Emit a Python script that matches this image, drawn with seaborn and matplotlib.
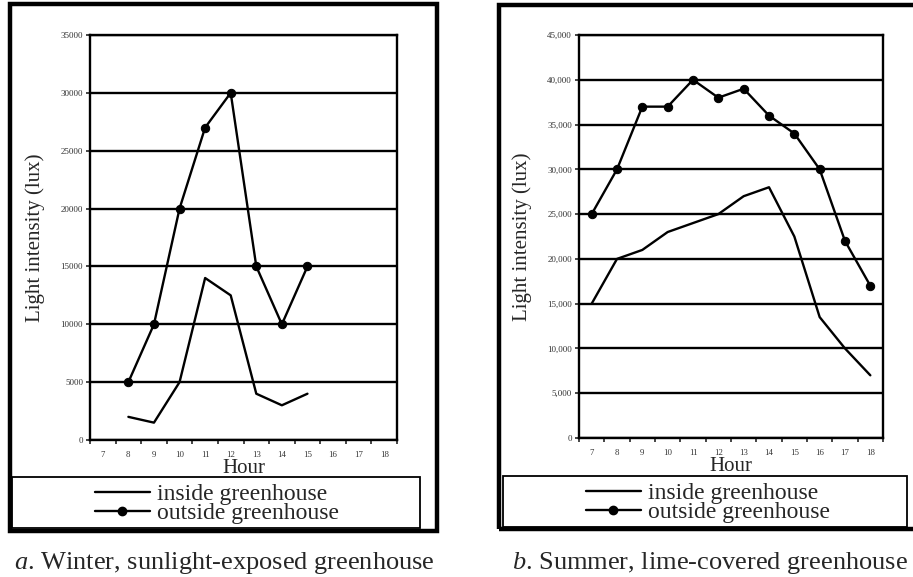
import matplotlib
matplotlib.use("Agg")
import matplotlib.pyplot as plt
import seaborn as sns
import pandas as pd
from matplotlib.lines import Line2D
from matplotlib.patches import Rectangle
from matplotlib.ticker import FixedLocator, FuncFormatter

# ---------------- data ----------------
hours_axis = list(range(7, 19))
winter_hours = [8, 9, 10, 11, 12, 13, 14, 15]
winter_inside = [2000, 1500, 5000, 14000, 12500, 4000, 3000, 4000]
winter_outside = [5000, 10000, 20000, 27000, 30000, 15000, 10000, 15000]
summer_hours = [7, 8, 9, 10, 11, 12, 13, 14, 15, 16, 17, 18]
summer_inside = [15000, 20000, 21000, 23000, 24000, 25000, 27000, 28000, 22500, 13500, 10000, 7000]
summer_outside = [25000, 30000, 37000, 37000, 40000, 38000, 39000, 36000, 34000, 30000, 22000, 17000]
winter_yticks = [0, 5000, 10000, 15000, 20000, 25000, 30000, 35000]
summer_yticks = [0, 5000, 10000, 15000, 20000, 25000, 30000, 35000, 40000, 45000]
series_labels = ["inside greenhouse", "outside greenhouse"]
x_label = "Hour"
y_label = "Light intensity (lux)"
captions = [r"$\mathit{a}$. Winter, sunlight-exposed greenhouse",
            r"$\mathit{b}$. Summer, lime-covered greenhouse"]

# ---------------- style ----------------
sns.set_style("white")
plt.rcParams["font.family"] = ["Liberation Serif", "DejaVu Serif"]
plt.rcParams["mathtext.fontset"] = "custom"
plt.rcParams["mathtext.rm"] = "Liberation Serif"
plt.rcParams["mathtext.it"] = "Liberation Serif:italic"

W, H = 913, 577
fig = plt.figure(figsize=(W / 100, H / 100), dpi=100)
fig.patch.set_facecolor("white")


def fx(px):
    return px / W


def fy(py):
    return 1 - py / H


def add_axes_px(left, top, right, bottom):
    return fig.add_axes([fx(left), fy(bottom), (right - left) / W, (bottom - top) / H])


LW = 1.7


def draw_panel(ax, hours, inside, outside, yticks, comma):
    df_in = pd.DataFrame({"Hour": hours, "lux": inside})
    df_out = pd.DataFrame({"Hour": hours, "lux": outside})
    sns.lineplot(data=df_in, x="Hour", y="lux", ax=ax, color="black", lw=LW)
    sns.lineplot(data=df_out, x="Hour", y="lux", ax=ax, color="black", lw=LW,
                 marker="o", markersize=6, markeredgecolor="black")
    ax.set_xlim(hours_axis[0] - 0.5, hours_axis[-1] + 0.5)
    ax.set_ylim(yticks[0], yticks[-1])
    ax.set_yticks(yticks)
    if comma:
        ax.yaxis.set_major_formatter(FuncFormatter(lambda v, p: f"{int(v):,}"))
    else:
        ax.yaxis.set_major_formatter(FuncFormatter(lambda v, p: f"{int(v)}"))
    ax.set_xticks(hours_axis)
    ax.set_xticklabels([str(h) for h in hours_axis])
    ax.xaxis.set_minor_locator(FixedLocator([h - 0.5 for h in hours_axis] + [hours_axis[-1] + 0.5]))
    ax.grid(axis="y", color="black", lw=LW)
    ax.grid(axis="x", visible=False)
    for s in ax.spines.values():
        s.set_visible(True)
        s.set_color("black")
        s.set_linewidth(LW)
    ax.tick_params(axis="y", which="major", direction="out", length=3, width=1.2,
                   labelsize=6.5, labelcolor="#333333", pad=2, left=True)
    ax.tick_params(axis="x", which="major", length=0, labelsize=6.3,
                   labelcolor="#333333", pad=8)
    ax.tick_params(axis="x", which="minor", direction="out", length=3, width=1.2, bottom=True)
    ax.set_xlabel(x_label, fontsize=15, labelpad=0)
    ax.set_ylabel(y_label, fontsize=15, labelpad=11)


ax_a = add_axes_px(90, 35, 397, 440)
draw_panel(ax_a, winter_hours, winter_inside, winter_outside, winter_yticks, False)
ax_b = add_axes_px(579, 35, 883, 438)
draw_panel(ax_b, summer_hours, summer_inside, summer_outside, summer_yticks, True)

# outer frames
for (x0, y0, x1, y1) in [(10, 4, 437, 531), (499, 5, 920, 529)]:
    fig.add_artist(Rectangle((fx(x0), fy(y1)), (x1 - x0) / W, (y1 - y0) / H,
                             transform=fig.transFigure, fill=False, ec="black", lw=3.2))

# legend boxes and legends
handles = [Line2D([], [], color="black", lw=LW),
           Line2D([], [], color="black", lw=LW, marker="o", markersize=6)]
for (x0, y0, x1, y1, cx) in [(12, 477, 420, 528, 217), (503, 476, 907, 527, 708)]:
    fig.add_artist(Rectangle((fx(x0), fy(y1)), (x1 - x0) / W, (y1 - y0) / H,
                             transform=fig.transFigure, fill=False, ec="black", lw=1.3))
    fig.legend(handles, series_labels, loc="center",
               bbox_to_anchor=(fx(cx), fy((y0 + y1) / 2 + 1.5)), frameon=False,
               fontsize=17, handlelength=2.3, handletextpad=0.3,
               labelspacing=-0.12, borderpad=0)

# captions
fig.text(fx(224), fy(563), captions[0], ha="center", va="center", fontsize=19)
fig.text(fx(710), fy(563), captions[1], ha="center", va="center", fontsize=19)

fig.savefig("out.png", dpi=100)
